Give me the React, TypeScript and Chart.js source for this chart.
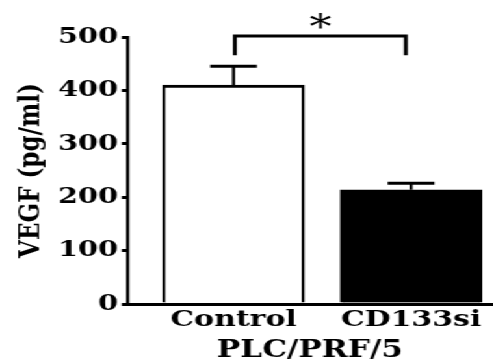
import React, { useEffect, useRef } from "react";
import { Chart, registerables } from "chart.js";

Chart.register(...registerables);

const categories = ["Control", "CD133si"];
const means = [410, 214];
const errors = [35, 12];
const yTicks = [0, 100, 200, 300, 400, 500];
const yTitle = "VEGF (pg/ml)";
const xTitle = "PLC/PRF/5";
const sigLabel = "*";
const sigBracket = [502, 466];
const sigLabelValue = 526;

const STRETCH = 1.3;
const W = Math.round(493 / STRETCH);
const H = 363;
const FONT = "'DejaVu Serif', serif";

const extrasPlugin = {
  id: "extras",
  afterDatasetsDraw(chart: any) {
    const { ctx } = chart;
    const ys = chart.scales.y;
    const meta = chart.getDatasetMeta(0);
    ctx.save();
    ctx.strokeStyle = "#000";
    ctx.lineCap = "butt";
    meta.data.forEach((bar: any, i: number) => {
      const x = bar.x;
      const yTop = ys.getPixelForValue(means[i] + errors[i]);
      const yBar = ys.getPixelForValue(means[i]);
      ctx.lineWidth = 2.4;
      ctx.beginPath();
      ctx.moveTo(x, yBar);
      ctx.lineTo(x, yTop);
      ctx.stroke();
      ctx.lineWidth = 3;
      ctx.beginPath();
      ctx.moveTo(x - 18, yTop);
      ctx.lineTo(x + 18, yTop);
      ctx.stroke();
    });
    // significance bracket
    const x1 = meta.data[0].x + 1;
    const x2 = meta.data[1].x - 4;
    const yb = ys.getPixelForValue(sigBracket[0]);
    const yd = ys.getPixelForValue(sigBracket[1]);
    ctx.lineWidth = 3;
    ctx.beginPath();
    ctx.moveTo(x1, yd);
    ctx.lineTo(x1, yb);
    ctx.lineTo(x2, yb);
    ctx.lineTo(x2, yd);
    ctx.stroke();
    ctx.fillStyle = "#000";
    ctx.font = `normal 34px ${FONT}`;
    ctx.textAlign = "center";
    ctx.textBaseline = "middle";
    ctx.fillText(sigLabel, (x1 + x2) / 2, ys.getPixelForValue(sigLabelValue) + 6);
    ctx.restore();
  },
};

export default function App() {
  const ref = useRef<HTMLCanvasElement | null>(null);
  useEffect(() => {
    if (!ref.current) return;
    const chart = new Chart(ref.current, {
      type: "bar",
      data: {
        datasets: [
          {
            data: categories.map((c, i) => ({ x: i + 1, y: means[i] })),
            backgroundColor: ["#ffffff", "#000000"],
            borderColor: "#000",
            borderWidth: { top: 3, left: 2.4, right: 2.4, bottom: 0 },
            borderSkipped: "start",
            barThickness: 109,
          } as any,
        ],
      },
      options: {
        responsive: false,
        animation: false,
        events: [],
        layout: { padding: { top: 37, left: 0, right: 0, bottom: 0 } },
        plugins: { legend: { display: false }, tooltip: { enabled: false } },
        scales: {
          x: {
            type: "linear",
            offset: false,
            min: 0.4,
            max: 2.46,
            grid: { display: false, drawTicks: false, offset: false },
            border: { display: true, color: "#000", width: 3 },
            afterBuildTicks: (s: any) => {
              s.ticks = categories.map((c, i) => ({ value: i + 1 }));
            },
            afterFit: (s: any) => {
              s.height = 59;
            },
            ticks: {
              color: "#000",
              padding: 2,
              autoSkip: false,
              maxRotation: 0,
              font: { family: FONT, size: 23, weight: "bold" },
              callback: (v: any) => categories[Math.round(v) - 1] ?? "",
            },
            title: {
              display: true,
              text: xTitle,
              color: "#000",
              padding: { top: 0, bottom: 0 },
              font: { family: FONT, size: 24, weight: "bold", lineHeight: 1 },
            },
          },
          y: {
            min: 0,
            max: 500,
            afterBuildTicks: (s: any) => {
              s.ticks = yTicks.map((v) => ({ value: v }));
            },
            afterFit: (s: any) => {
              s.width = 97.7;
            },
            grid: {
              drawOnChartArea: false,
              drawTicks: true,
              tickLength: 4,
              color: "#000",
              lineWidth: 3,
            },
            border: { display: true, color: "#000", width: 2.4 },
            ticks: {
              color: "#000",
              padding: 3,
              font: { family: FONT, size: 22, weight: "bold" },
            },
            title: {
              display: true,
              text: yTitle,
              color: "#000",
              padding: { top: 10, bottom: 0 },
              font: { family: FONT, size: 23, weight: "bold" },
            },
          },
        },
      },
      plugins: [extrasPlugin],
    } as any);
    return () => chart.destroy();
  }, []);
  return (
    <div
      style={{
        position: "absolute",
        left: 0,
        top: 0,
        width: W,
        height: H,
        transform: `scaleX(${STRETCH})`,
        transformOrigin: "0 0",
        background: "#fff",
      }}
    >
      <canvas ref={ref} width={W} height={H} />
    </div>
  );
}
